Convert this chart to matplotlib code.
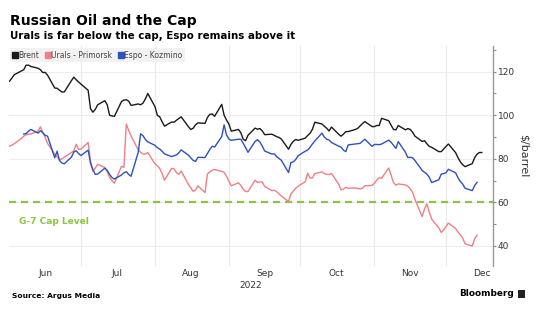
import numpy as np
import pandas as pd
import matplotlib
matplotlib.use("Agg")
import matplotlib.pyplot as plt
from matplotlib.lines import Line2D
from matplotlib.patches import FancyBboxPatch

# business days, Jun 1 - Dec 16 2022
dates = pd.bdate_range("2022-06-01", "2022-12-16")
nan = np.nan

brent = [
    115.6, 117.0, 118.6, 120.3, 120.9, 123.0, 123.0, 122.4, 121.6, 120.9, 119.6,
    119.7, 118.4, 112.5, 112.4, 111.5, 110.7, 110.7, 115.9, 117.5, 116.3, 115.3,
    114.3, 111.5, 103.0, 101.4, 102.7, 104.8, 106.7, 104.8, 100.0, 99.7, 99.5,
    106.3, 107.0, 107.1, 106.5, 104.5, 105.2, 104.8, 105.6, 107.5, 110.0,
    104.0, 100.0, 99.3, 97.0, 95.0, 96.9, 96.8, 97.7, 98.5, 99.3, 94.8, 93.5,
    94.0, 95.6, 96.5, 96.3, 99.0, 100.4, 100.6, 99.5, 105.0, 100.0, 97.8,
    96.0, 92.7, 93.5, 92.0, 89.0, 88.3, 90.8, 94.1, 93.6, 93.9, 92.8, 91.1,
    91.3, 90.8, 90.2, 89.8, 89.1, 84.4, 86.6, 88.0, 88.9, 88.5,
    89.5, 90.7, 91.7, 93.5, 96.8, 96.0, 95.0, 94.0, 92.8, 94.6, 91.3, 90.4,
    91.3, 92.5, 92.5, 93.5, 94.0, 95.1, 96.2, 97.1, 94.8,
    94.8, 95.3, 95.3, 98.6, 97.5, 95.4, 93.5, 93.3, 95.3, 93.3, 93.9, 93.5,
    92.2, 90.4, 88.0, 88.3, 86.9, 85.7, 85.3, 83.3, 83.3, 84.5,
    85.7, 86.8, 82.9, 80.6, 78.6, 77.3, 76.4, 77.8, 80.5, 82.1, 82.9, 82.9,
]

urals = [
    85.8, 86.3, 86.9, 89.3, 90.4, 91.1, 91.3, 91.4, 92.8, 94.7, 92.1, 89.8,
    87.1, 82.1, 80.9, 79.6, 80.0, 80.7, 82.9, 83.7, 86.7, 84.3,
    84.5, 87.5, 78.9, 74.3, 75.8, 77.5, 76.0, 74.1, 71.5, 70.0, 68.8, 76.6,
    76.1, 96.0, 93.0, 90.5, 84.1, 83.0, 82.2, 82.2, 82.9,
    77.7, 76.8, 75.6, 73.4, 70.2, 75.6, 75.4, 73.7, 72.9, 74.4, 68.3, 66.7,
    65.1, 65.6, 67.6, 64.5, 73.0, 74.1, 74.8, 75.1, 74.2, 73.8, 72.0,
    69.7, 67.6, 69.0, 67.8, 66.0, 65.0, 65.0, 70.2, 69.1, 69.4, 69.4, 67.3,
    65.4, 65.6, 65.0, 63.9, 62.9, 60.4, 63.9, 65.2, 66.5, 67.4,
    69.5, 73.4, 71.2, 71.2, 73.2, 74.0, 73.2, 72.9, 72.8, 73.3, 68.4, 65.8,
    66.0, 66.9, 66.5, 66.6, 66.4, 66.2, 66.5, 67.6, 67.8,
    68.8, 70.3, 71.4, 71.1, 75.8, 72.4, 69.1, 67.9, 68.5, 68.0, 67.4, 66.3,
    64.6, 61.3, 53.5, 57.0, 59.3, 55.5, 52.3, 48.3, 46.2, 47.3,
    48.9, 50.5, 48.0, 46.4, 45.1, 43.6, 41.0, 40.0, 43.3, 45.0, nan, nan,
]

espo = [
    nan, nan, nan, nan, 91.4, 91.6, 92.7, 93.5, 91.8, 92.9, 92.0, 90.8,
    90.4, 80.5, 83.5, 79.2, 78.1, 77.7, 80.8, 83.1, 83.7, 82.4,
    81.5, 84.0, 78.0, 75.0, 72.9, 73.0, 75.7, 74.7, 72.8, 71.4, 70.7, 72.6,
    73.6, 74.1, 72.8, 72.0, 83.0, 91.5, 90.6, 88.9, 87.8,
    86.2, 85.1, 84.5, 83.5, 82.3, 81.0, 81.4, 81.8, 82.7, 84.1, 81.7, 80.5,
    79.3, 78.8, 80.7, 80.6, 82.5, 84.3, 85.8, 85.4, 90.2, 95.6, 91.0,
    89.1, 88.5, 89.0, 89.0, 87.1, 85.2, 83.0, 88.0, 88.8, 87.7, 85.8, 83.6,
    82.2, 82.3, 81.0, 80.2, 79.3, 73.7, 78.3, 78.6, 79.7, 81.4,
    83.5, 84.0, 85.3, 86.8, 88.2, 91.8, 90.0, 89.0, 88.6, 87.5, 85.8, 85.4,
    84.0, 83.3, 86.4, 86.8, 86.9, 87.1, 88.1, 89.0, 85.7,
    86.6, 86.6, 86.5, 86.8, 88.6, 87.6, 86.2, 84.8, 87.9, 83.0, 80.6, 80.7,
    80.5, 79.2, 74.7, 73.8, 73.0, 71.5, 69.1, 70.4, 73.0, 73.2,
    73.7, 75.2, 73.6, 71.4, 69.6, 68.4, 66.5, 65.4, 67.7, 69.2, nan, nan,
]

cap_level = 60
series_names = ["Brent", "Urals - Primorsk", "Espo - Kozmino"]
series_colors = ["#1a1a1a", "#f07f86", "#2d52bd"]
month_labels = ["Jun", "Jul", "Aug", "Sep", "Oct", "Nov", "Dec"]

fig = plt.figure(figsize=(5.46, 3.27), dpi=100)
ax = fig.add_axes([9.4 / 546, 61 / 327, (493 - 9.4) / 546, 220 / 327])

for vals, c in zip([brent, urals, espo], series_colors):
    ax.plot(dates, vals, color=c, lw=1.0, zorder=3)

ax.axhline(cap_level, color="#8cc63f", lw=1.6, ls=(0, (3.2, 2.2)), zorder=2)
ax.text(pd.Timestamp("2022-06-05"), 51, "G-7 Cap Level", color="#8cc63f",
        fontsize=6.5, fontweight="bold", va="center", ha="left")

x0 = pd.Timestamp("2022-06-01")
ax.set_xlim(x0, x0 + pd.Timedelta(days=202.7))
ax.set_ylim(30.8, 131.8)

# gridlines at month starts, labels mid-month
month_starts = pd.date_range("2022-07-01", "2022-12-01", freq="MS")
month_mids = [pd.Timestamp(2022, m, 16) for m in range(6, 13)]
ax.set_xticks(month_starts)
ax.set_xticklabels([])
ax.set_xticks(month_mids, minor=True)
ax.set_xticklabels(month_labels, minor=True)
ax.tick_params(axis="x", which="both", length=0, labelsize=6.5, colors="#333333", pad=2)
ax.grid(axis="x", which="major", color="#e9e9e9", lw=0.8)

ax.yaxis.tick_right()
ax.yaxis.set_label_position("right")
ax.set_yticks([40, 60, 80, 100, 120])
ax.set_yticks([50, 70, 90, 110, 130], minor=True)
ax.tick_params(axis="y", which="both", length=2.5, width=0.8, colors="#888888",
               labelcolor="#333333", labelsize=6.5, pad=1)
ax.grid(axis="y", which="major", color="#ededed", lw=0.8)
ax.set_ylabel("\\$/barrel", rotation=270, labelpad=10, fontsize=8, color="#333333")

for s in ["top", "left", "bottom"]:
    ax.spines[s].set_visible(False)
ax.spines["right"].set_color("#999999")
ax.spines["right"].set_linewidth(1.0)

fig.text(251 / 546, 1 - 285 / 327, "2022", ha="center", va="center",
         fontsize=6.5, color="#333333")

handles = [Line2D([], [], marker="s", ls="none", color=c, markersize=3.8)
           for c in series_colors]
leg = fig.legend(handles, series_names, loc="upper left",
                 bbox_to_anchor=(10 / 546, 1 - 48 / 327), ncol=3, fontsize=5.5,
                 frameon=True, fancybox=False, handlelength=0.6,
                 handletextpad=0.15, columnspacing=0.8, borderpad=0.35,
                 borderaxespad=0)
leg.get_frame().set_facecolor("#efefef")
leg.get_frame().set_edgecolor("none")
for t in leg.get_texts():
    t.set_color("#444444")

fig.text(10 / 546, 1 - 21 / 327, "Russian Oil and the Cap", fontsize=10,
         fontweight="bold", va="center", ha="left")
fig.text(10 / 546, 1 - 36 / 327, "Urals is far below the cap, Espo remains above it",
         fontsize=7.4, fontweight="bold", va="center", ha="left")
fig.text(12 / 546, 1 - 296 / 327, "Source: Argus Media", fontsize=5.4,
         fontweight="bold", va="center", ha="left")
fig.text(514 / 546, 1 - 294 / 327, "Bloomberg", fontsize=6.4,
         fontweight="bold", va="center", ha="right")
fig.patches.append(FancyBboxPatch((518 / 546, 1 - 298 / 327), 7 / 546, 8 / 327,
                                  boxstyle="round,pad=0", transform=fig.transFigure,
                                  facecolor="#222222", edgecolor="none"))

fig.savefig("out.png", dpi=100)
